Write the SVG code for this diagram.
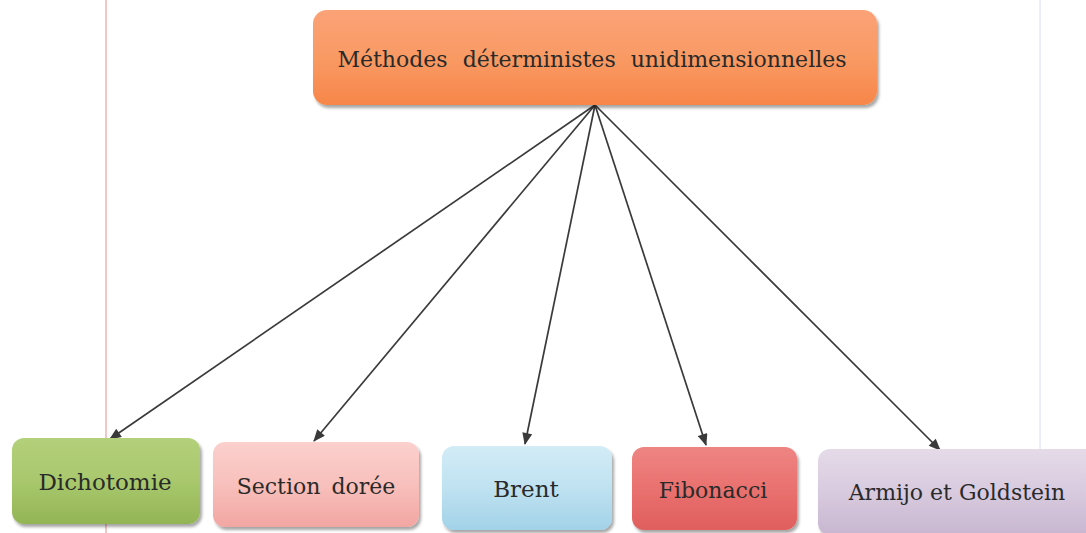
<svg xmlns="http://www.w3.org/2000/svg" width="1086" height="533" viewBox="0 0 1086 533">
  <defs>
    <style>
      .edge { stroke: #3a3a3a; stroke-width: 1.7; fill: none; marker-end: url(#arrow); }
      .box { filter: url(#shadow); }
      .lbl { font-family: 'DejaVu Serif', 'Liberation Serif', serif; fill: #2a2a2a; text-anchor: middle; }
    </style>
    <marker id="arrow" viewBox="0 0 12 10" refX="11" refY="5" markerWidth="13" markerHeight="10" orient="auto" markerUnits="userSpaceOnUse">
      <path d="M0,0 L12,5 L0,10 z" fill="#3a3a3a"/>
    </marker>
    <filter id="shadow" x="-10%" y="-10%" width="125%" height="130%">
      <feGaussianBlur in="SourceAlpha" stdDeviation="1.5"/>
      <feOffset dx="1.5" dy="2.5" result="b"/>
      <feComponentTransfer><feFuncA type="linear" slope="0.35"/></feComponentTransfer>
      <feMerge><feMergeNode/><feMergeNode in="SourceGraphic"/></feMerge>
    </filter>
    <linearGradient id="gOrange" x1="0" y1="0" x2="0" y2="1">
      <stop offset="0" stop-color="#fba277"/>
      <stop offset="0.5" stop-color="#f99a64"/>
      <stop offset="1" stop-color="#f7864a"/>
    </linearGradient>
    <linearGradient id="gGreen" x1="0" y1="0" x2="0" y2="1">
      <stop offset="0" stop-color="#b3d07a"/>
      <stop offset="0.5" stop-color="#a9c86d"/>
      <stop offset="1" stop-color="#93b455"/>
    </linearGradient>
    <linearGradient id="gPink" x1="0" y1="0" x2="0" y2="1">
      <stop offset="0" stop-color="#fbd0cd"/>
      <stop offset="0.5" stop-color="#f8c0bc"/>
      <stop offset="1" stop-color="#f2a6a2"/>
    </linearGradient>
    <linearGradient id="gBlue" x1="0" y1="0" x2="0" y2="1">
      <stop offset="0" stop-color="#d3ecf6"/>
      <stop offset="0.5" stop-color="#bfe2f1"/>
      <stop offset="1" stop-color="#a2d2e8"/>
    </linearGradient>
    <linearGradient id="gRed" x1="0" y1="0" x2="0" y2="1">
      <stop offset="0" stop-color="#ee8583"/>
      <stop offset="0.5" stop-color="#e9716f"/>
      <stop offset="1" stop-color="#df5f5d"/>
    </linearGradient>
    <linearGradient id="gLilac" x1="0" y1="0" x2="0" y2="1">
      <stop offset="0" stop-color="#e5dbe8"/>
      <stop offset="0.5" stop-color="#d8cadf"/>
      <stop offset="1" stop-color="#c8b6d0"/>
    </linearGradient>
  </defs>

  <rect width="1086" height="533" fill="#ffffff"/>

  <!-- faint page margin lines -->
  <line x1="106" y1="0" x2="106" y2="533" stroke="#e8a0a0" stroke-width="1.2"/>
  <line x1="1040" y1="0" x2="1040" y2="533" stroke="#d4dcf0" stroke-width="1"/>

  <!-- connectors -->
  <g id="connectors">
    <line class="edge" x1="595" y1="105" x2="110" y2="439"/>
    <line class="edge" x1="595" y1="105" x2="314" y2="441"/>
    <line class="edge" x1="595" y1="105" x2="525" y2="444"/>
    <line class="edge" x1="595" y1="105" x2="706" y2="445"/>
    <line class="edge" x1="595" y1="105" x2="940" y2="450"/>
  </g>

  <g id="node-root">
    <rect class="box" x="313" y="10" width="564" height="95" rx="14" fill="url(#gOrange)"/>
    <text class="lbl" x="592" y="67" font-size="22" word-spacing="8">Méthodes déterministes unidimensionnelles</text>
  </g>

  <g id="node-dichotomie">
    <rect class="box" x="12" y="438" width="188" height="86" rx="12" fill="url(#gGreen)"/>
    <text class="lbl" x="105" y="490" font-size="23">Dichotomie</text>
  </g>

  <g id="node-section-doree">
    <rect class="box" x="213" y="442" width="206" height="85" rx="12" fill="url(#gPink)"/>
    <text class="lbl" x="316" y="494" font-size="22" word-spacing="4">Section dorée</text>
  </g>

  <g id="node-brent">
    <rect class="box" x="442" y="446" width="170" height="84" rx="12" fill="url(#gBlue)"/>
    <text class="lbl" x="526" y="497" font-size="23">Brent</text>
  </g>

  <g id="node-fibonacci">
    <rect class="box" x="632" y="447" width="165" height="83" rx="12" fill="url(#gRed)"/>
    <text class="lbl" x="713" y="498" font-size="22">Fibonacci</text>
  </g>

  <g id="node-armijo">
    <rect class="box" x="818" y="449" width="290" height="86" rx="12" fill="url(#gLilac)"/>
    <text class="lbl" x="957" y="500" font-size="22">Armijo  et Goldstein</text>
  </g>
</svg>
